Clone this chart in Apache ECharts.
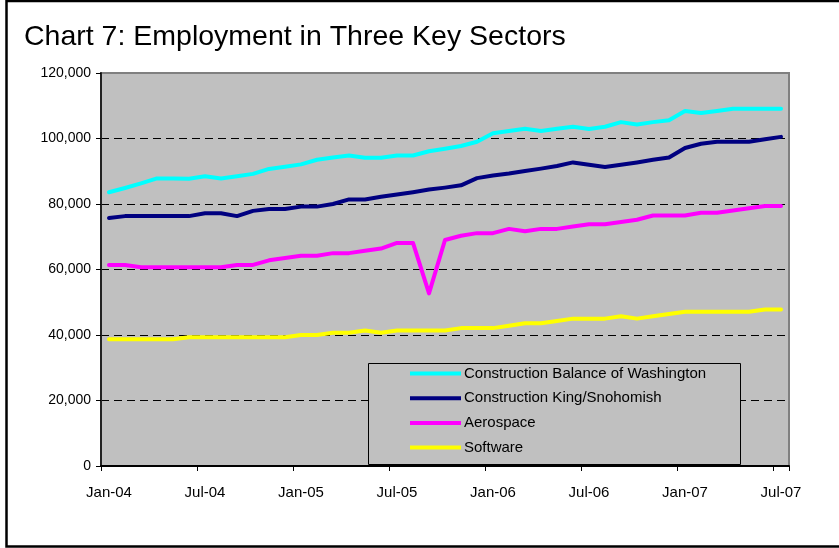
<!DOCTYPE html>
<html>
<head>
<meta charset="utf-8">
<script src="https://cdn.jsdelivr.net/npm/echarts@6/dist/echarts.min.js"></script>
<style>
html,body{margin:0;padding:0;background:#fff;}
#chart{width:839px;height:548px;}
</style>
</head>
<body>
<div id="chart"></div>
<script>
var categories = ["Jan-04","Feb-04","Mar-04","Apr-04","May-04","Jun-04","Jul-04","Aug-04","Sep-04","Oct-04","Nov-04","Dec-04",
  "Jan-05","Feb-05","Mar-05","Apr-05","May-05","Jun-05","Jul-05","Aug-05","Sep-05","Oct-05","Nov-05","Dec-05",
  "Jan-06","Feb-06","Mar-06","Apr-06","May-06","Jun-06","Jul-06","Aug-06","Sep-06","Oct-06","Nov-06","Dec-06",
  "Jan-07","Feb-07","Mar-07","Apr-07","May-07","Jun-07","Jul-07"];

var constructionBalance = [83600,84900,86300,87800,87800,87700,88500,87800,88500,89200,90700,91400,
  92100,93500,94200,94800,94100,94100,94800,94800,96100,96900,97700,99000,
  101600,102300,103000,102300,103000,103600,102900,103600,105000,104300,105000,105600,
  108400,107800,108400,109100,109100,109100,109100];

var constructionKing = [75700,76300,76300,76300,76300,76300,77200,77200,76300,77900,78500,78500,
  79200,79200,80000,81400,81400,82200,82900,83600,84400,85000,85700,87900,
  88700,89300,90100,90800,91600,92700,92000,91300,92000,92700,93500,94200,
  97100,98400,99000,99000,99000,99800,100500];

var aerospace = [61400,61400,60700,60700,60700,60700,60700,60700,61400,61400,62800,63500,
  64200,64200,65000,65000,65700,66400,68100,68100,52700,69000,70300,71100,
  71100,72400,71700,72400,72400,73100,73800,73800,74500,75200,76500,76500,
  76500,77300,77300,78000,78700,79400,79400];

var software = [38700,38700,38700,38700,38700,39300,39300,39300,39300,39300,39300,39300,
  40000,40000,40700,40700,41400,40700,41400,41400,41400,41400,42100,42100,
  42100,42800,43600,43600,44300,45000,45000,45000,45700,45000,45700,46400,
  47100,47100,47100,47100,47100,47800,47800];

var seriesNames = ["Construction Balance of Washington","Construction King/Snohomish","Aerospace","Software"];
var seriesColors = ["#00FFFF","#000080","#FF00FF","#FFFF00"];
var seriesData = [constructionBalance, constructionKing, aerospace, software];

var yTicks = {min:0, max:120000, interval:20000};

var FONT = "Liberation Sans, Arial, sans-serif";

var chart = echarts.init(document.getElementById('chart'), null, {renderer:'canvas'});

var series = seriesData.map(function(d, i){
  return {
    name: seriesNames[i],
    type: 'line',
    data: d,
    symbol: 'none',
    smooth: false,
    z: 3,
    lineStyle: {color: seriesColors[i], width: 4, join: 'round', cap: 'round'},
    itemStyle: {color: seriesColors[i]},
    emphasis: {disabled: true}
  };
});

chart.setOption({
  animation: false,
  backgroundColor: '#ffffff',
  title: {
    text: 'Chart 7: Employment in Three Key Sectors',
    left: 24, top: 23, padding: 0,
    textStyle: {fontFamily: FONT, fontSize: 28.5, fontWeight: 'normal', color: '#000'}
  },
  grid: {
    left: 101, top: 73, right: 50, bottom: 82,
    show: true, backgroundColor: '#C0C0C0', borderColor: '#808080', borderWidth: 2
  },
  xAxis: {
    type: 'category',
    data: categories,
    boundaryGap: true,
    axisLine: {show: true, lineStyle: {color: '#000', width: 2}},
    axisTick: {show: true, interval: 5, length: 5, inside: false, lineStyle: {color: '#000', width: 1}},
    axisLabel: {interval: 5, margin: 19, fontFamily: FONT, fontSize: 15, color: '#000'},
    splitLine: {show: false}
  },
  yAxis: {
    type: 'value',
    min: yTicks.min, max: yTicks.max, interval: yTicks.interval,
    axisLine: {show: true, lineStyle: {color: '#222', width: 2}},
    axisTick: {show: true, length: 5, lineStyle: {color: '#000', width: 1}},
    axisLabel: {margin: 10, fontFamily: FONT, fontSize: 14, color: '#000'},
    splitLine: {show: true, showMinLine: false, showMaxLine: false, lineStyle: {color: '#000', width: 1, type: [8, 5]}}
  },
  legend: {
    show: true,
    orient: 'vertical',
    left: 410, top: 366,
    padding: 0,
    itemWidth: 51, itemHeight: 15, itemGap: 9.7,
    icon: 'path://M0,0 L51,0 L51,4 L0,4 Z',
    symbolKeepAspect: true,
    data: seriesNames,
    selectedMode: false,
    textStyle: {fontFamily: FONT, fontSize: 15, color: '#000', padding: [0,0,0,-2]},
    z: 10
  },
  graphic: [
    {type: 'rect', z: 5, zlevel: 0, shape: {x: 368.5, y: 363.5, width: 372, height: 101},
     style: {fill: '#C0C0C0', stroke: '#000', lineWidth: 1}, silent: true},
    {type: 'rect', z: 100, shape: {x: 6.5, y: 1, width: 900, height: 545.5},
     style: {fill: 'none', stroke: '#000', lineWidth: 2.5}, silent: true}
  ],
  series: series
});
</script>
</body>
</html>
